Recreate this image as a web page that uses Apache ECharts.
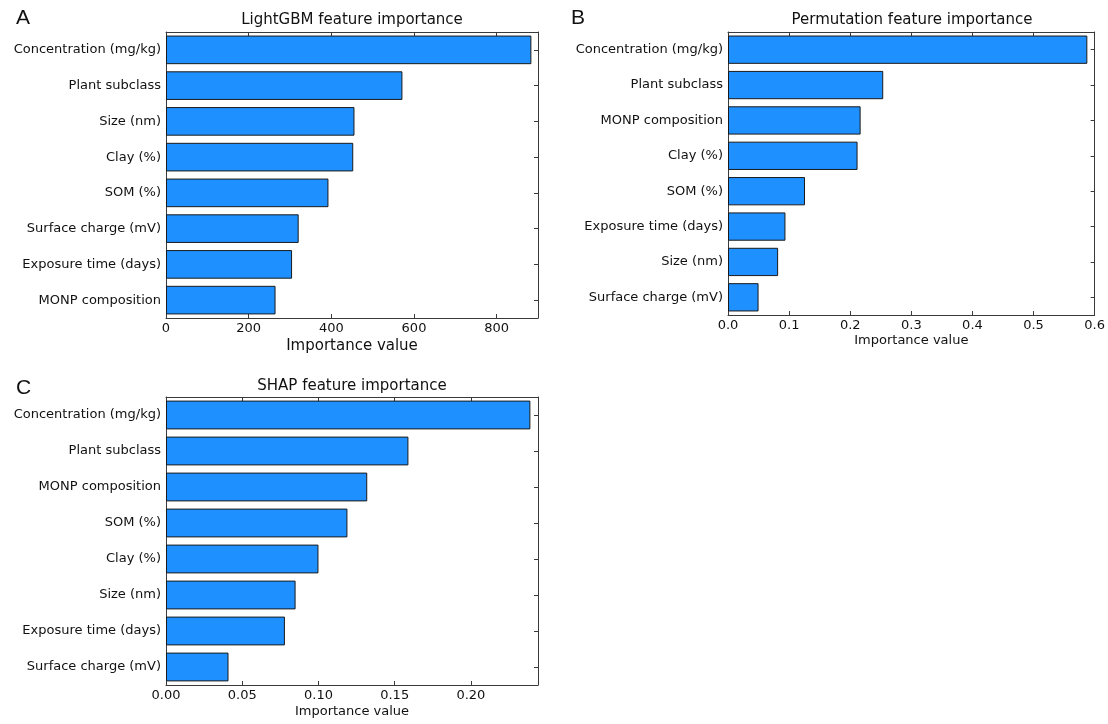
<!DOCTYPE html>
<html>
<head>
<meta charset="utf-8">
<script src="https://cdn.jsdelivr.net/npm/echarts@6/dist/echarts.min.js"></script>
<style>html,body{margin:0;padding:0;background:#fff;}#chart{width:1108px;height:724px;}</style>
</head>
<body>
<div id="chart"></div>
<script>
// Panel A: LightGBM feature importance (top to bottom)
const lgbmCategories = ['Concentration (mg/kg)', 'Plant subclass', 'Size (nm)', 'Clay (%)', 'SOM (%)', 'Surface charge (mV)', 'Exposure time (days)', 'MONP composition'];
const lgbmValues = [884, 572, 456, 453, 393, 321, 305, 265];
const lgbmTicks = [0, 200, 400, 600, 800];

// Panel B: Permutation feature importance
const permCategories = ['Concentration (mg/kg)', 'Plant subclass', 'MONP composition', 'Clay (%)', 'SOM (%)', 'Exposure time (days)', 'Size (nm)', 'Surface charge (mV)'];
const permValues = [0.588, 0.254, 0.217, 0.212, 0.126, 0.094, 0.082, 0.050];
const permTicks = [0, 0.1, 0.2, 0.3, 0.4, 0.5, 0.6];

// Panel C: SHAP feature importance
const shapCategories = ['Concentration (mg/kg)', 'Plant subclass', 'MONP composition', 'SOM (%)', 'Clay (%)', 'Size (nm)', 'Exposure time (days)', 'Surface charge (mV)'];
const shapValues = [0.239, 0.159, 0.132, 0.119, 0.100, 0.085, 0.078, 0.041];
const shapTicks = [0, 0.05, 0.10, 0.15, 0.20];

const FONT = 'DejaVu Sans';
const LINE = '#3a3a3a';

const chart = echarts.init(document.getElementById('chart'), null, {renderer: 'canvas'});

function xAxes(gridIndex, max, ticks, fmt, nameSize, nameGap) {
  const common = {
    type: 'value', gridIndex: gridIndex, min: 0, max: max,
    splitLine: {show: false},
    axisLine: {show: true, onZero: false, lineStyle: {color: LINE, width: 1}},
    axisTick: {show: true, inside: true, length: 4, customValues: ticks, lineStyle: {color: LINE}}
  };
  return [
    Object.assign({}, common, {
      position: 'bottom',
      name: 'Importance value', nameLocation: 'middle', nameGap: nameGap,
      nameTextStyle: {fontFamily: FONT, fontSize: nameSize, color: '#111'},
      axisLabel: {show: true, margin: 4, customValues: ticks, fontFamily: FONT, fontSize: 13, color: '#111', formatter: fmt}
    }),
    Object.assign({}, common, {
      position: 'top',
      axisLabel: {show: false}
    })
  ];
}

function yAxes(gridIndex, cats) {
  const common = {
    type: 'category', gridIndex: gridIndex, data: cats, inverse: true,
    boundaryGap: true,
    splitLine: {show: false},
    axisLine: {show: true, onZero: false, lineStyle: {color: LINE, width: 1}},
    axisTick: {show: true, inside: true, length: 4, alignWithLabel: true, lineStyle: {color: LINE}}
  };
  return [
    Object.assign({}, common, {
      position: 'left',
      axisLabel: {show: true, margin: 5, fontFamily: FONT, fontSize: 13, color: '#111'}
    }),
    Object.assign({}, common, {
      position: 'right',
      axisLabel: {show: false}
    })
  ];
}

function barSeries(xi, yi, values) {
  return {
    type: 'bar', xAxisIndex: xi, yAxisIndex: yi, data: values,
    barCategoryGap: '20%',
    itemStyle: {color: '#1E90FF', borderColor: '#1a1a1a', borderWidth: 1},
    silent: true, animation: false
  };
}

const titleStyle = {fontFamily: FONT, fontSize: 15, fontWeight: 'normal', color: '#111'};
const letterStyle = {fontFamily: 'Liberation Sans', fontSize: 21, fontWeight: 'normal', color: '#111'};

const option = {
  backgroundColor: '#fff',
  animation: false,
  title: [
    {text: 'LightGBM feature importance', left: 352, top: 13, textAlign: 'center', textStyle: titleStyle, padding: 0},
    {text: 'Permutation feature importance', left: 912, top: 13, textAlign: 'center', textStyle: titleStyle, padding: 0},
    {text: 'SHAP feature importance', left: 352, top: 379, textAlign: 'center', textStyle: titleStyle, padding: 0},
    {text: 'A', left: 16, top: 8, textStyle: letterStyle, padding: 0},
    {text: 'B', left: 571, top: 8, textStyle: letterStyle, padding: 0},
    {text: 'C', left: 16, top: 378, textStyle: letterStyle, padding: 0}
  ],
  grid: [
    {left: 166, top: 32, width: 372, height: 286, containLabel: false},
    {left: 728, top: 32, width: 369, height: 283, containLabel: false},
    {left: 166, top: 397, width: 372, height: 288, containLabel: false}
  ],
  xAxis: [].concat(
    xAxes(0, 900, lgbmTicks, v => String(v), 15, 21),
    xAxes(1, 0.6, permTicks, v => v.toFixed(1), 13, 19),
    xAxes(2, 0.244, shapTicks, v => v.toFixed(2), 13, 20)
  ),
  yAxis: [].concat(
    yAxes(0, lgbmCategories),
    yAxes(1, permCategories),
    yAxes(2, shapCategories)
  ),
  series: [
    barSeries(0, 0, lgbmValues),
    barSeries(2, 2, permValues),
    barSeries(4, 4, shapValues)
  ]
};
chart.setOption(option);
</script>
</body>
</html>
